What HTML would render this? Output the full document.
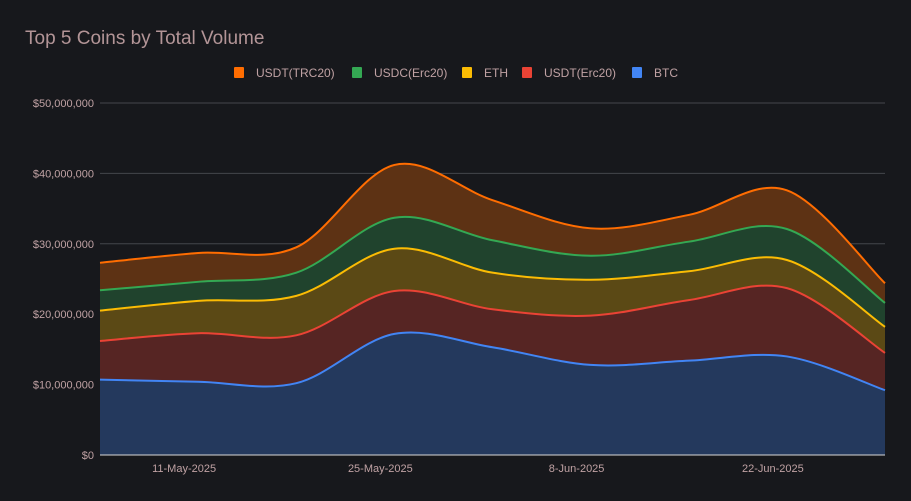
<!DOCTYPE html>
<html><head><meta charset="utf-8"><style>
body{margin:0;background:#17181c;}
svg{display:block;font-family:"Liberation Sans",Arial,sans-serif;}
</style></head><body>
<svg id="chart" width="911" height="501">
<rect width="911" height="501" fill="#17181c"/>
<text x="25" y="44" font-size="19" fill="#b39597">Top 5 Coins by Total Volume</text>
<g id="legend"></g>
<g id="grid"></g>
<g id="areas"></g>
<g id="axes"></g>
</svg>
<script>
const categories=["5-May","12-May","19-May","26-May","2-Jun","9-Jun","16-Jun","23-Jun","30-Jun"];
const xTickLabels=["11-May-2025","25-May-2025","8-Jun-2025","22-Jun-2025"];
const xTickDayOffsets=[6,20,34,48];
const yTicks=[0,10000000,20000000,30000000,40000000,50000000];
const seriesNames=["BTC","USDT(Erc20)","ETH","USDC(Erc20)","USDT(TRC20)"];
const btc=[10.7,10.4,10.2,17.2,15.3,12.8,13.4,14.0,9.2];
const usdtErc=[5.5,6.9,6.8,6.1,5.4,7.0,8.6,9.7,5.3];
const eth=[4.3,4.6,5.6,6.0,5.2,5.1,4.1,4.0,3.7];
const usdcErc=[2.9,2.7,3.3,4.4,4.6,3.4,4.2,4.4,3.4];
const usdtTrc=[3.9,4.1,3.6,7.5,5.7,3.9,3.8,5.5,2.8];
const series=[btc,usdtErc,eth,usdcErc,usdtTrc];
const lineColors=["#4285f4","#ea4335","#fbbc04","#34a853","#ff6d01"];
const fillColors=["#24395d","#562523","#5b4915","#20432d","#5d3214"];
const NS="http://www.w3.org/2000/svg";
const X0=100,X1=885,Y0=455,Y1=103;
const xs=i=>X0+(X1-X0)*i/(categories.length-1);
const ys=v=>Y0-(Y0-Y1)*v/50000000;
function mk(t,a,p){const e=document.createElementNS(NS,t);for(const k in a)e.setAttribute(k,a[k]);p.appendChild(e);return e;}
const grid=document.getElementById('grid'),axes=document.getElementById('axes'),areas=document.getElementById('areas'),legend=document.getElementById('legend');
yTicks.forEach(v=>{
 if(v>0){const l=mk('line',{x1:X0,x2:X1,y1:ys(v),y2:ys(v),stroke:'#44464b','stroke-width':1},grid);
 
 }
 const t=mk('text',{x:94,y:ys(v)+4,'text-anchor':'end','font-size':11,fill:'#c0a2a4'},axes);
 t.textContent='$'+v.toLocaleString('en-US');
 
 
});
xTickLabels.forEach((s,i)=>{
 const t=mk('text',{x:X0+(X1-X0)*xTickDayOffsets[i]/56,y:472,'text-anchor':'middle','font-size':11,fill:'#c0a2a4'},axes);
 t.textContent=s;
 
 
});
const cum=[];let prev=categories.map(()=>0);
series.forEach(s=>{const c=s.map((v,i)=>prev[i]+v*1e6);cum.push(c);prev=c;});
function pathOf(pts){let d='M'+pts[0][0]+','+pts[0][1];
 for(let i=0;i<pts.length-1;i++){const p0=pts[i-1]||pts[i],p1=pts[i],p2=pts[i+1],p3=pts[i+2]||p2;
 const c1=[p1[0]+(p2[0]-p0[0])/6,p1[1]+(p2[1]-p0[1])/6],c2=[p2[0]-(p3[0]-p1[0])/6,p2[1]-(p3[1]-p1[1])/6];
 d+=' C'+c1+' '+c2+' '+p2;}return d;}
for(let k=series.length-1;k>=0;k--){
 const pts=cum[k].map((v,i)=>[xs(i),ys(v)]);
 const d=pathOf(pts);
 const a=mk('path',{d:d+' L'+X1+','+Y0+' L'+X0+','+Y0+' Z',fill:fillColors[k]},areas);
 
 
}
for(let k=series.length-1;k>=0;k--){
 const pts=cum[k].map((v,i)=>[xs(i),ys(v)]);
 const l=mk('path',{d:pathOf(pts),fill:'none',stroke:lineColors[k],'stroke-width':2},areas);
 
 
}
const base=mk('line',{x1:X0,x2:X1,y1:Y0,y2:Y0,stroke:'#d8d8d8','stroke-width':1},axes);


const legX=[234,352,462,522,632];
for(let j=0;j<5;j++){const k=4-j;
 const r=mk('rect',{x:legX[j],y:67,width:10,height:11,rx:1,fill:lineColors[k]},legend);
 
 
 const t=mk('text',{x:legX[j]+22,y:77,'font-size':12,fill:'#c0a2a4'},legend);
 t.textContent=seriesNames[k];
 
 
}
</script>
</body></html>
